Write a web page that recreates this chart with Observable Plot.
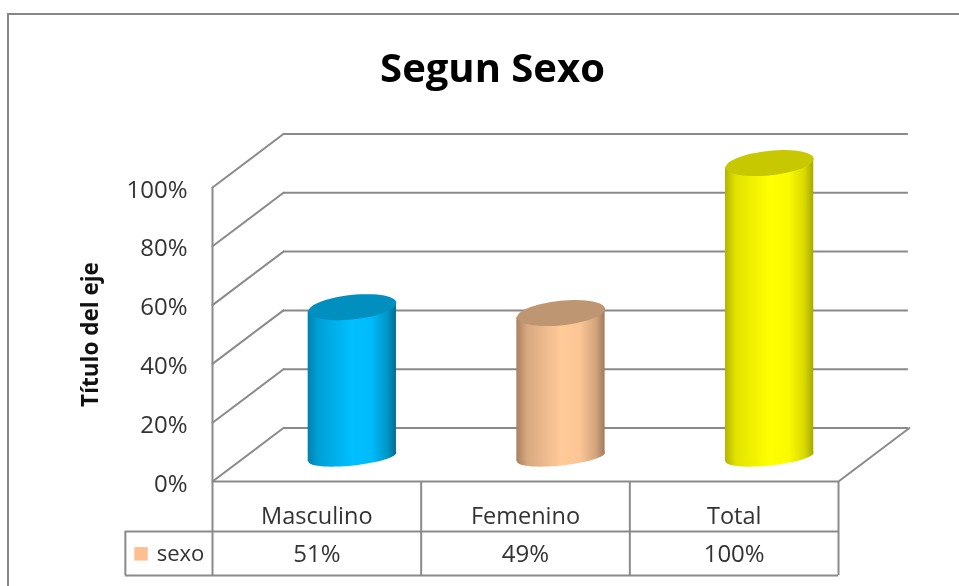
<!DOCTYPE html>
<html>
<head>
<meta charset="utf-8">
<script src="https://cdn.jsdelivr.net/npm/d3@7"></script>
<script src="https://cdn.jsdelivr.net/npm/@observablehq/plot@0.6"></script>
<style>
  html, body { margin: 0; padding: 0; background: #fff; }
  #page { position: relative; width: 959px; height: 586px; overflow: hidden; }
  #border { position: absolute; left: 7px; top: 13px; width: 960px; height: 600px; border: 2px solid #868686; box-sizing: border-box; }
  #chart { position: absolute; left: 0; top: 0; }
  #chart svg { display: block; filter: blur(0.4px); }
</style>
</head>
<body>
<div id="page"><div id="border"></div><div id="chart"></div></div>
<script>
const titleText = "Segun Sexo";
const axisTitle = "Título del eje";
const categories = ["Masculino", "Femenino", "Total"];
const values = [51, 49, 100];
const valueLabels = ["51%", "49%", "100%"];
const seriesName = "sexo";
const yTicks = [0, 20, 40, 60, 80, 100];
const bodyStops = [
  [["0%", "#0082b0"], ["12%", "#00a0d6"], ["50%", "#00bfff"], ["72%", "#00bbfa"], ["90%", "#0096c8"], ["100%", "#006c92"]],
  [["0%", "#a98060"], ["12%", "#d8a880"], ["50%", "#ffc998"], ["72%", "#fbc595"], ["90%", "#d2a47c"], ["100%", "#a07a5c"]],
  [["0%", "#b4b400"], ["12%", "#e2e200"], ["50%", "#ffff00"], ["72%", "#fbfb00"], ["90%", "#d8d800"], ["100%", "#a8a800"]]
];
const capColors = ["#008fbf", "#bf9672", "#c8c800"];

// oblique projection of the 3-D box, in scale units
const depthX = 0.34, depthY = 18.2;
const halfWidth = 0.2115, tilt = 1.55, midDepth = 0.5;
const baseLift = 8.3;
const rowLine1 = -17, rowLine2 = -32, tableLeft = -0.4176;
const labelRow = -11.9, valueRow = -24.6;

const rows = categories.map((name, i) => ({
  name, value: values[i], label: valueLabels[i], i,
  cx: i + 0.5 + depthX * midDepth,
  colMid: i + 0.5
}));

// tilted ellipse as a custom Plot symbol
const ellipse = (flat) => ({
  draw(ctx, size) {
    const rx = Math.sqrt(size / Math.PI), ry = rx * flat, a = -6 * Math.PI / 180;
    for (let k = 0; k <= 60; ++k) {
      const t = k / 60 * 2 * Math.PI;
      const ex = rx * Math.cos(t), ey = ry * Math.sin(t);
      const px = ex * Math.cos(a) - ey * Math.sin(a), py = ex * Math.sin(a) + ey * Math.cos(a);
      k ? ctx.lineTo(px, py) : ctx.moveTo(px, py);
    }
    ctx.closePath();
  }
});

function gradients() {
  const svg = document.createElementNS("http://www.w3.org/2000/svg", "defs");
  svg.innerHTML = bodyStops.map((stops, i) =>
    `<linearGradient id="body${i}" x1="0" x2="1" y1="0" y2="0">` +
    stops.map(([o, c]) => `<stop offset="${o}" stop-color="${c}"/>`).join("") +
    `</linearGradient>`).join("");
  return svg;
}

const grey = "#8a8a8a";
const lineW = 2;

const plot = Plot.plot({
  width: 959,
  height: 586,
  marginLeft: 212,
  marginRight: 121,
  marginTop: 187,
  marginBottom: 105,
  style: { background: "transparent", fontFamily: "'Open Sans', sans-serif", color: "#333" },
  x: { domain: [0, 3], axis: null },
  y: { domain: [0, 100], axis: null },
  marks: [
    gradients,
    // back wall gridlines
    Plot.ruleY(yTicks, { y: d => d + depthY, x1: depthX, x2: 3 + depthX - 0.005, stroke: grey, strokeWidth: lineW }),
    // side wall diagonals
    ...yTicks.map(t => Plot.line([[0, t], [depthX, t + depthY]], { stroke: grey, strokeWidth: lineW })),
    // floor edge on right
    Plot.line([[3, 0], [3 + depthX, depthY]], { stroke: grey, strokeWidth: lineW }),
    // axis line and floor
    Plot.ruleX([0], { y1: 100, y2: rowLine2, stroke: grey, strokeWidth: lineW }),
    Plot.ruleY([0], { x1: 0, x2: 3, stroke: grey, strokeWidth: lineW }),
    // data table
    Plot.ruleX([1, 2, 3], { y1: 0, y2: rowLine2, stroke: grey, strokeWidth: lineW }),
    Plot.ruleX([tableLeft], { y1: rowLine1, y2: rowLine2, stroke: grey, strokeWidth: lineW }),
    Plot.ruleY([rowLine1, rowLine2], { x1: tableLeft, x2: 3, stroke: grey, strokeWidth: lineW }),
    // cylinders
    ...rows.flatMap(r => [
      Plot.dot([r], { x: "cx", y: () => baseLift, r: 44.2, symbol: ellipse(0.19), fill: `url(#body${r.i})`, stroke: "none" }),
      Plot.areaY([
        { x: r.cx - halfWidth, lo: baseLift - tilt, hi: baseLift + r.value - tilt },
        { x: r.cx + halfWidth, lo: baseLift + tilt, hi: baseLift + r.value + tilt }
      ], { x: "x", y1: "lo", y2: "hi", fill: `url(#body${r.i})`, curve: "linear" }),
      Plot.dot([r], { x: "cx", y: () => baseLift + r.value, r: 44.2, symbol: ellipse(0.277), fill: capColors[r.i], stroke: "none" })
    ]),
    // y axis
    Plot.axisY({ ticks: yTicks, tickFormat: d => d + "%", tickSize: 0, tickPadding: 25, fontSize: 24, label: null, dy: 2.5 }),
    Plot.axisY({ ticks: [], label: axisTitle, labelAnchor: "center", labelArrow: "none", labelOffset: 130, fontSize: 22.5, fontWeight: "bold", fill: "#111" }),
    // table text
    Plot.text(rows, { x: "colMid", y: () => labelRow, text: "name", fontSize: 23.5 }),
    Plot.text(rows, { x: "colMid", y: () => valueRow, text: "label", fontSize: 24 }),
    Plot.text([seriesName], { x: tableLeft + 0.15, y: () => valueRow, text: d => d, textAnchor: "start", fontSize: 22 }),
    Plot.dot([seriesName], { x: tableLeft + 0.075, y: () => valueRow, symbol: "square", r: 7.6, fill: "#fdbf90", stroke: "none" }),
    // chart title
    Plot.text([titleText], { frameAnchor: "top", text: d => d, dx: -33, dy: -134, fontSize: 40, fontWeight: "bold", fill: "#000" })
  ]
});
document.getElementById("chart").appendChild(plot);
</script>
</body>
</html>
